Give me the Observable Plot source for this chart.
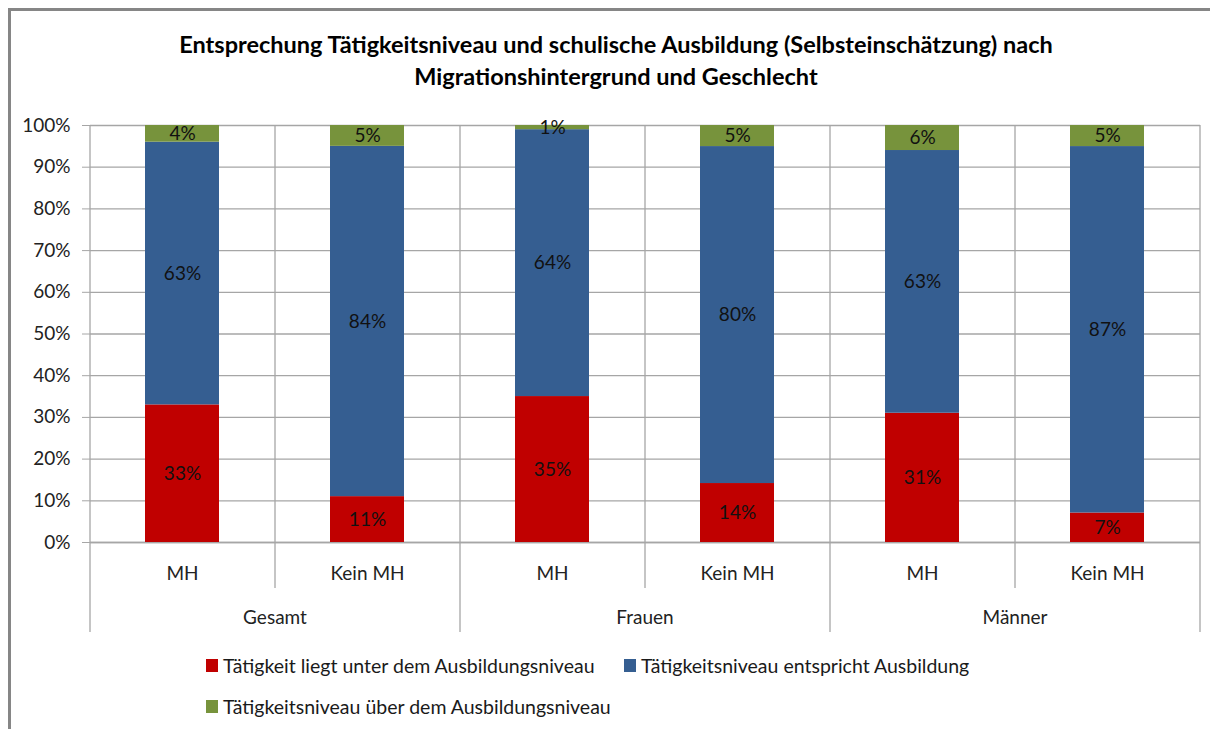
<!DOCTYPE html>
<html>
<head>
<meta charset="utf-8">
<script src="https://cdn.jsdelivr.net/npm/d3@7"></script>
<script src="https://cdn.jsdelivr.net/npm/@observablehq/plot@0.6"></script>
<style>
  html, body { margin: 0; padding: 0; background: #fff; }
  #wrap { position: relative; width: 1210px; height: 729px; overflow: hidden; font-family: Lato, "Open Sans", sans-serif; background: #fff; }
  #frame { position: absolute; left: 8px; top: 8px; width: 1220px; height: 740px; border-left: 3px solid #868686; border-top: 3px solid #868686; box-sizing: border-box; }
  #title { position: absolute; left: 0; top: 28px; width: 1232px; text-align: center; font-weight: bold; font-size: 23.5px; line-height: 32px; color: #000; }
  #chart { position: absolute; left: 0; top: 100px; }
  .leg { position: absolute; font-size: 19.5px; color: #1a1a1a; white-space: nowrap; display: flex; align-items: center; }
  .sw { display: inline-block; width: 12px; height: 13px; margin-right: 5px; }
</style>
</head>
<body>
<div id="wrap">
  <div id="frame"></div>
  <div id="title">Entsprechung Tätigkeitsniveau und schulische Ausbildung (Selbsteinschätzung) nach<br>Migrationshintergrund und Geschlecht</div>
  <div id="chart"></div>
  <div id="legend"></div>
</div>
<script>
const groups = ["Gesamt", "Frauen", "Männer"];
const subgroups = ["MH", "Kein MH"];
const series = [
  "Tätigkeit liegt unter dem Ausbildungsniveau",
  "Tätigkeitsniveau entspricht Ausbildung",
  "Tätigkeitsniveau über dem Ausbildungsniveau"
];
const colors = ["#C00000", "#355E91", "#77933C"];
// values in order: Gesamt MH, Gesamt Kein MH, Frauen MH, Frauen Kein MH, Männer MH, Männer Kein MH
const unter      = [33, 11, 35, 14, 31, 7];
const entspricht = [63, 84, 64, 80, 63, 87];
const ueber      = [4, 5, 1, 5, 6, 5];
const yTicks = [0, 0.1, 0.2, 0.3, 0.4, 0.5, 0.6, 0.7, 0.8, 0.9, 1.0];

const cats = [];
groups.forEach(g => subgroups.forEach(s => cats.push({key: g + "|" + s, group: g, sub: s})));
const seriesValues = [unter, entspricht, ueber];
const data = [];
cats.forEach((c, i) => {
  series.forEach((s, j) => {
    data.push({cat: c.key, group: c.group, sub: c.sub, series: s, value: seriesValues[j][i]});
  });
});

const W = 1210, H = 540, ML = 90, MR = 10, MT = 25, MB = 98;
const step = (W - ML - MR) / cats.length;
const grid = "#A6A6A6";
const FS = 19;

const innerBounds = cats.filter(c => c.sub === "Kein MH").map(c => c.key);
const groupBoundsLeft = cats.filter(c => c.sub === "MH").map(c => c.key);
const lastCat = [cats[cats.length - 1].key];
const groupLabelAnchors = cats.filter(c => c.sub === "MH");

const chart = Plot.plot({
  width: W, height: H,
  marginLeft: ML, marginRight: MR, marginTop: MT, marginBottom: MB,
  style: {fontFamily: "Lato, 'Open Sans', sans-serif", background: "transparent"},
  x: {domain: cats.map(c => c.key), paddingInner: 0.6, paddingOuter: 0.3, axis: null},
  y: {domain: [0, 1], axis: null},
  color: {domain: series, range: colors},
  marks: [
    Plot.gridY(yTicks, {stroke: grid, strokeOpacity: 1, strokeWidth: 1.3}),
    Plot.ruleY([0], {stroke: grid, strokeWidth: 1.3}),
    Plot.ruleX(innerBounds, {dx: -step / 2, stroke: grid, strokeWidth: 1.3, insetBottom: -46}),
    Plot.ruleX(groupBoundsLeft, {dx: -step / 2, stroke: grid, strokeWidth: 1.3, insetBottom: -90}),
    Plot.ruleX(lastCat, {dx: step / 2, stroke: grid, strokeWidth: 1.3, insetBottom: -90}),
    Plot.axisY({ticks: yTicks, label: null, tickSize: 8, tickPadding: 12, stroke: grid, tickFormat: d => Math.round(d * 100) + "%", fontSize: FS, color: "#222"}),
    Plot.barY(data, Plot.stackY({x: "cat", y: "value", fill: "series", order: series, offset: "normalize"})),
    Plot.text(data, Plot.stackY({x: "cat", y: "value", z: "series", order: series, offset: "normalize", text: d => d.value + "%", fontSize: FS, fill: "#111"})),
    Plot.axisX({label: null, tickSize: 0, tickPadding: 24, tickFormat: d => d.split("|")[1], fontSize: FS, color: "#222"}),
    Plot.text(groupLabelAnchors, {x: "key", text: "group", frameAnchor: "bottom", dx: step / 2, dy: 81, lineAnchor: "bottom", fontSize: FS, fill: "#222"})
  ]
});
document.getElementById("chart").appendChild(chart);

const legend = document.getElementById("legend");
const legPos = [[206, 654], [624, 654], [206, 695]];
series.forEach((s, i) => {
  const d = document.createElement("div");
  d.className = "leg";
  d.style.left = legPos[i][0] + "px";
  d.style.top = legPos[i][1] + "px";
  d.innerHTML = `<span class="sw" style="background:${colors[i]}"></span><span>${s}</span>`;
  legend.appendChild(d);
});
</script>
</body>
</html>
